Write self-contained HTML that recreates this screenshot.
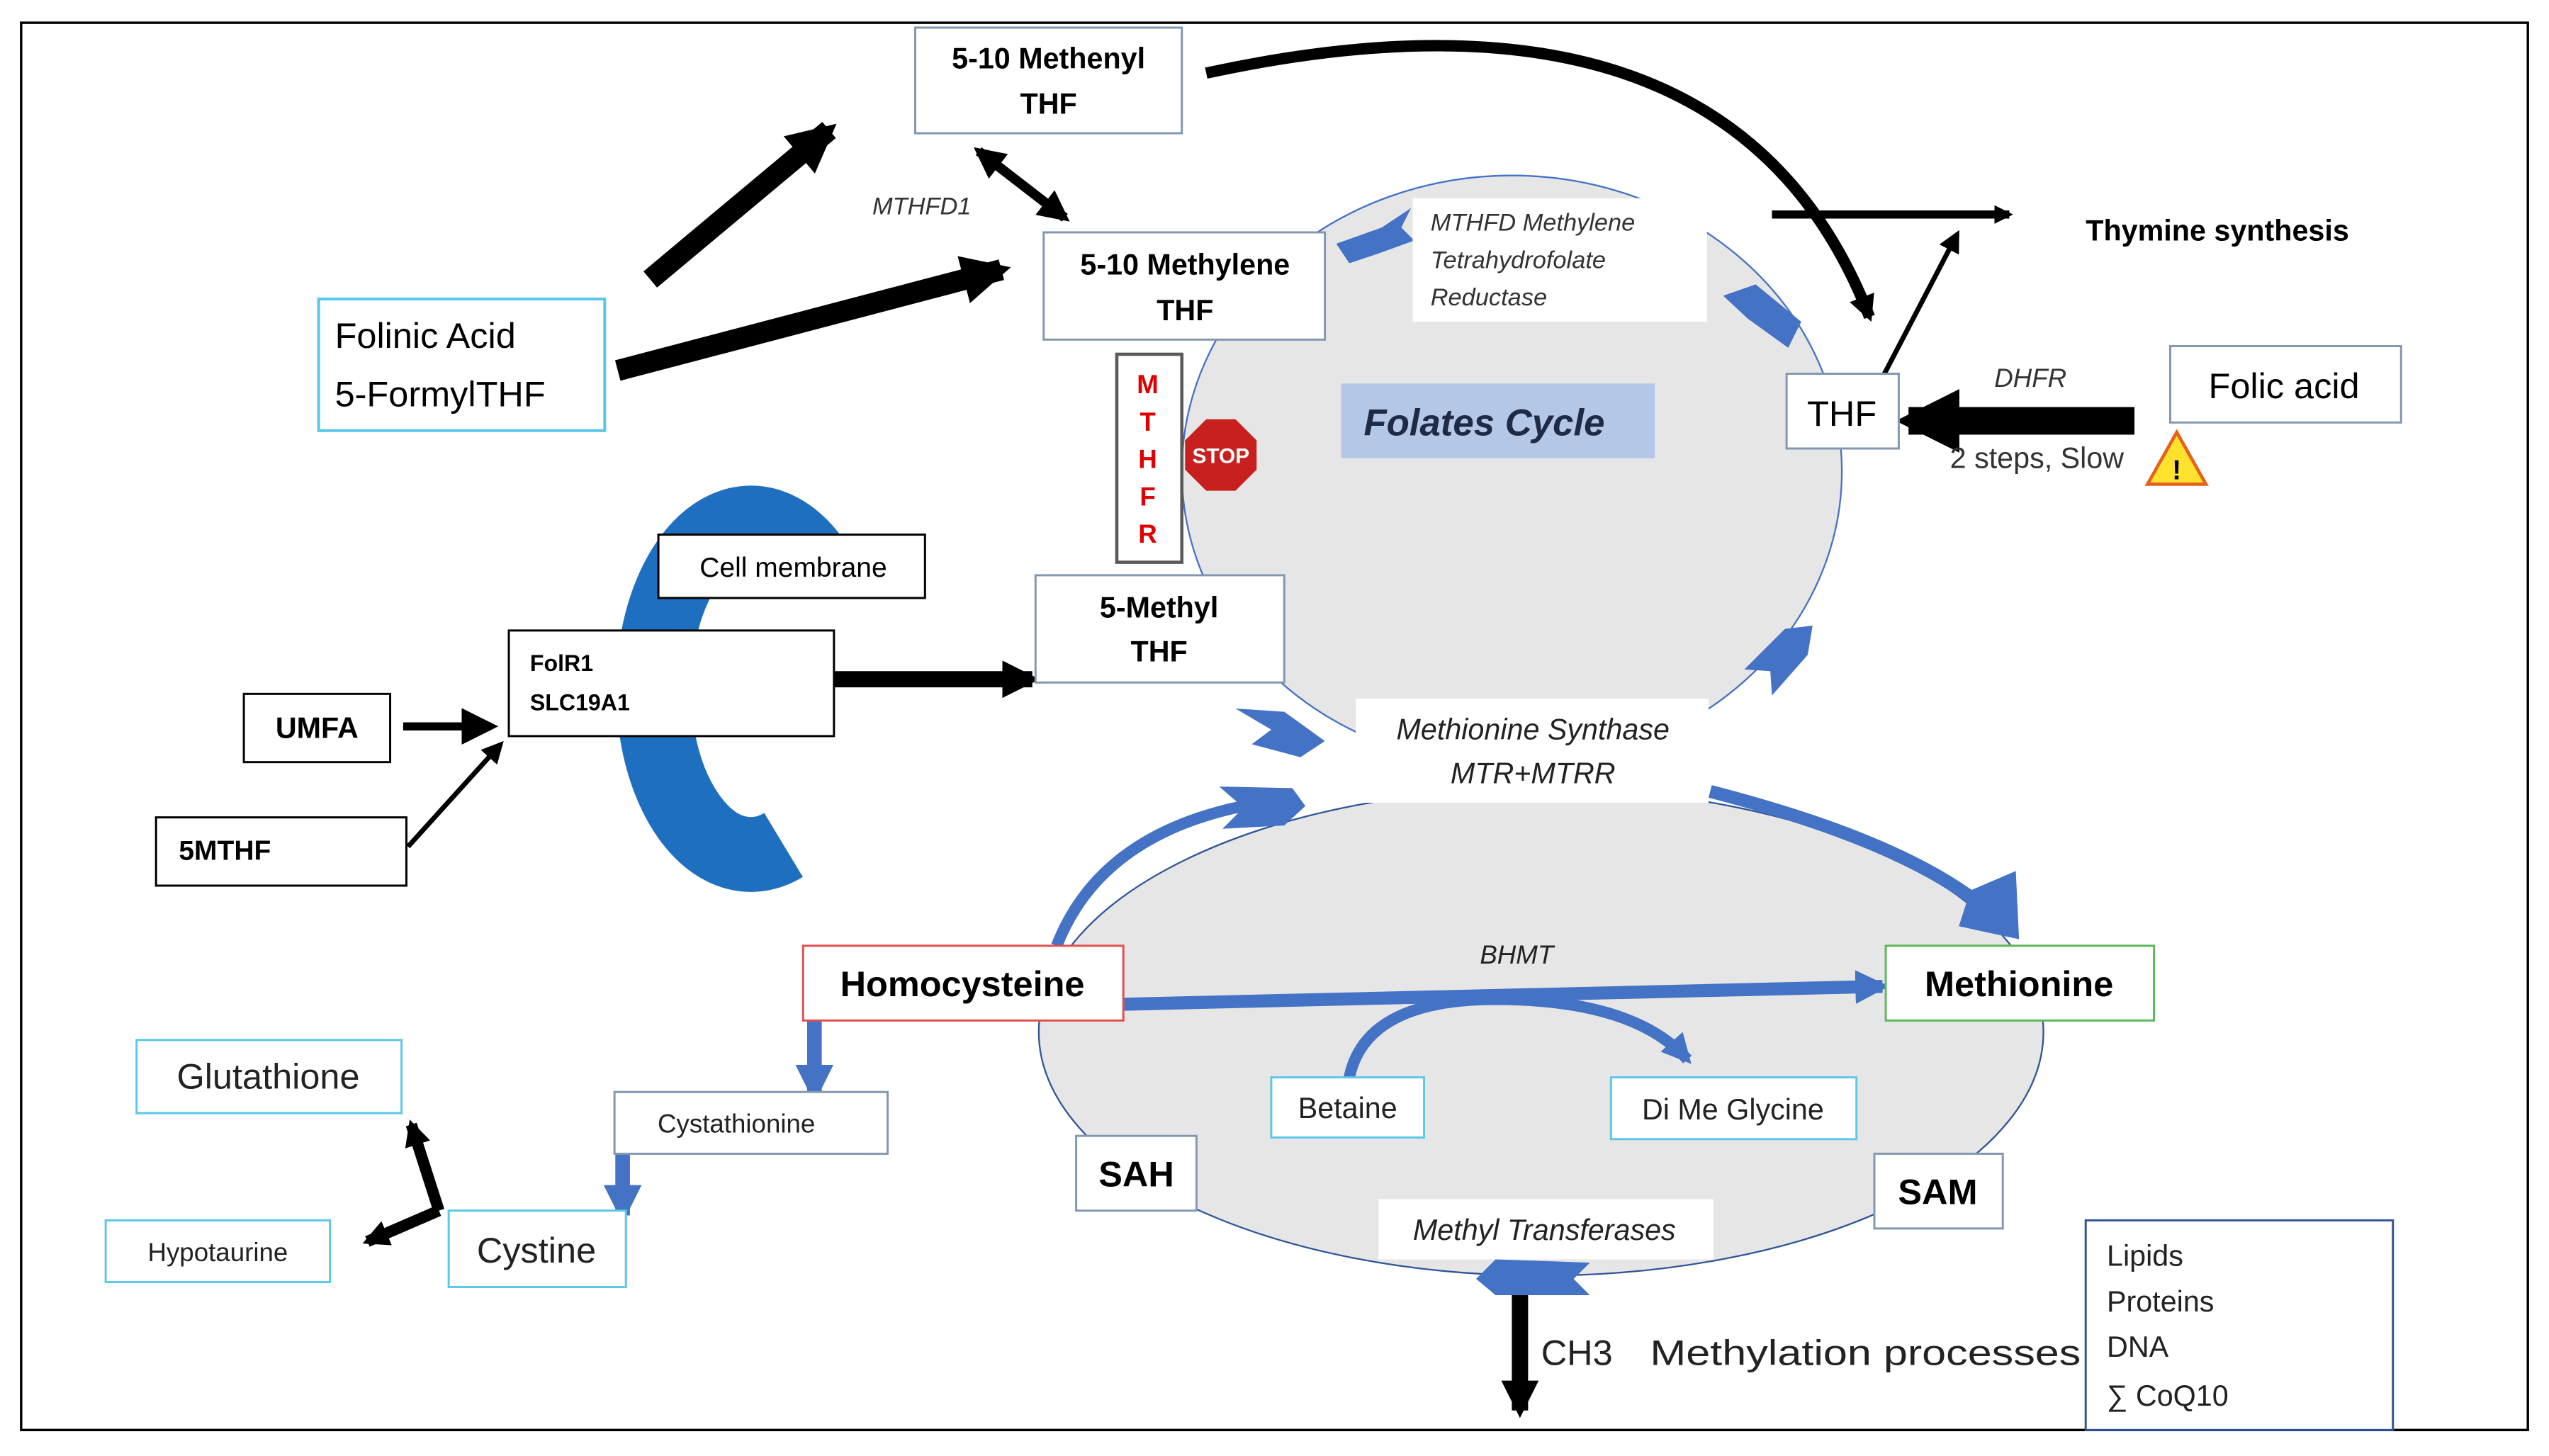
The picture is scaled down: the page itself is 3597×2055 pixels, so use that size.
<!DOCTYPE html>
<html><head><meta charset="utf-8"><style>
html,body{margin:0;padding:0;background:#fff;}
svg{display:block;}
text{font-family:"Liberation Sans",sans-serif;}
</style></head><body>
<svg width="3597" height="2055" viewBox="0 0 1568 896" preserveAspectRatio="none" xmlns="http://www.w3.org/2000/svg">
<defs>
<marker id="ah" viewBox="0 0 10 10" refX="8" refY="5" markerWidth="2.3" markerHeight="2.3" orient="auto-start-reverse"><path d="M0,0 L10,5 L0,10 z" fill="#000"/></marker>
<marker id="ahm" viewBox="0 0 10 10" refX="8" refY="5" markerWidth="3.2" markerHeight="3.2" orient="auto-start-reverse"><path d="M0,0 L10,5 L0,10 z" fill="#000"/></marker>
<marker id="ahs" viewBox="0 0 10 10" refX="8" refY="5" markerWidth="4.5" markerHeight="4.5" orient="auto-start-reverse"><path d="M0,0 L10,5 L0,10 z" fill="#000"/></marker>
<marker id="bh" viewBox="0 0 10 10" refX="8" refY="5" markerWidth="2.6" markerHeight="2.6" orient="auto"><path d="M0,0 L10,5 L0,10 z" fill="#4472c4"/></marker>
</defs>
<rect x="0" y="0" width="1568" height="896" fill="#fff"/>
<rect x="13" y="14" width="1542" height="866" fill="none" stroke="#000" stroke-width="1.5"/>

<ellipse cx="930" cy="290" rx="203" ry="182" fill="#e7e6e6" stroke="#4472c4" stroke-width="1"/>
<ellipse cx="948" cy="635" rx="309" ry="150" fill="#e7e6e6" stroke="#2f5597" stroke-width="1"/>

<path d="M 500 345 A 60 102 0 1 0 482 520" fill="none" stroke="#1f6fc0" stroke-width="46"/>

<line x1="380" y1="228" x2="616" y2="166" stroke="#000" stroke-width="13" marker-end="url(#ah)"/>
<line x1="400" y1="172" x2="510" y2="80" stroke="#000" stroke-width="13" marker-end="url(#ah)"/>
<line x1="602" y1="93" x2="655" y2="134" stroke="#000" stroke-width="6" marker-start="url(#ahm)" marker-end="url(#ahm)"/>
<path d="M 742 45 Q 1065 -25 1150 195" fill="none" stroke="#000" stroke-width="7" marker-end="url(#ah)"/>
<line x1="1090" y1="132" x2="1236" y2="132" stroke="#000" stroke-width="5" marker-end="url(#ah)"/>
<line x1="1155" y1="238" x2="1204" y2="144" stroke="#000" stroke-width="3" marker-end="url(#ahs)"/>
<line x1="1313" y1="259" x2="1174" y2="259" stroke="#000" stroke-width="17" marker-end="url(#ah)"/>
<line x1="513" y1="418" x2="635" y2="418" stroke="#000" stroke-width="10" marker-end="url(#ah)"/>
<line x1="248" y1="447" x2="302" y2="447" stroke="#000" stroke-width="5" marker-end="url(#ahs)"/>
<line x1="251" y1="521" x2="308" y2="458" stroke="#000" stroke-width="3" marker-end="url(#ahs)"/>
<line x1="935" y1="797" x2="935" y2="868" stroke="#000" stroke-width="10" marker-end="url(#ah)"/>
<line x1="270" y1="745" x2="253" y2="692" stroke="#000" stroke-width="7" marker-end="url(#ah)"/>
<line x1="270" y1="745" x2="226" y2="764" stroke="#000" stroke-width="7" marker-end="url(#ah)"/>

<path d="M 650 582 Q 680 505 790 492" fill="none" stroke="#4472c4" stroke-width="7"/>
<polygon points="750,484 795,485 803,496 790,508 752,510 765,497" fill="#4472c4"/>
<path d="M 1052 487 Q 1180 520 1228 565" fill="none" stroke="#4472c4" stroke-width="8"/>
<polygon points="1212,548 1240,536 1242,578 1205,570" fill="#4472c4"/>
<line x1="691" y1="618" x2="1158" y2="607" stroke="#4472c4" stroke-width="8" marker-end="url(#bh)"/>
<path d="M 830 663 Q 840 615 920 615 Q 1005 615 1038 652" fill="none" stroke="#4472c4" stroke-width="7" marker-end="url(#bh)"/>
<line x1="501" y1="626" x2="501" y2="674" stroke="#4472c4" stroke-width="9" marker-end="url(#bh)"/>
<line x1="383" y1="700" x2="383" y2="748" stroke="#4472c4" stroke-width="9" marker-end="url(#bh)"/>
<polygon points="760,436 790,438 815,456 800,466 770,458 782,449" fill="#4472c4"/>
<polygon points="1073,412 1098,387 1115,385 1112,403 1090,428 1089,413" fill="#4472c4"/>
<polygon points="1060,182 1080,175 1108,198 1100,214 1075,196" fill="#4472c4"/>
<polygon points="868,128 850,140 822,150 830,162 848,156 870,148 862,140" fill="#4472c4"/>
<polygon points="908,787 920,775 978,777 968,787 978,797 920,797" fill="#4472c4"/>

<g stroke-width="1.3" fill="#fff">
<rect x="563" y="17" width="164" height="65" stroke="#8497b0"/>
<rect x="642" y="143" width="173" height="66" stroke="#8497b0"/>
<rect x="687" y="218" width="40" height="128" stroke="#595959" stroke-width="2"/>
<rect x="869" y="122" width="181" height="76" stroke="none"/>
<rect x="825" y="236" width="193" height="46" fill="#b4c7e7" stroke="none"/>
<rect x="1099" y="230" width="69" height="46" stroke="#8497b0"/>
<rect x="1335" y="213" width="142" height="47" stroke="#8497b0"/>
<rect x="196" y="184" width="176" height="81" stroke="#5bc8e8" stroke-width="1.8"/>
<rect x="405" y="329" width="164" height="39" stroke="#000"/>
<rect x="313" y="388" width="200" height="65" stroke="#000"/>
<rect x="637" y="354" width="153" height="66" stroke="#8497b0"/>
<rect x="150" y="427" width="90" height="42" stroke="#000"/>
<rect x="96" y="503" width="154" height="42" stroke="#000"/>
<rect x="834" y="430" width="217" height="64" stroke="none"/>
<rect x="494" y="582" width="197" height="46" stroke="#e05050"/>
<rect x="1160" y="582" width="165" height="46" stroke="#5cb85c"/>
<rect x="782" y="663" width="94" height="37" stroke="#5bc8e8"/>
<rect x="991" y="663" width="151" height="38" stroke="#5bc8e8"/>
<rect x="662" y="699" width="74" height="46" stroke="#8497b0"/>
<rect x="1153" y="710" width="79" height="46" stroke="#8497b0"/>
<rect x="848" y="738" width="206" height="37" stroke="none"/>
<rect x="1283" y="751" width="189" height="129" stroke="#2f5597"/>
<rect x="84" y="640" width="163" height="45" stroke="#5bc8e8"/>
<rect x="65" y="751" width="138" height="38" stroke="#5bc8e8"/>
<rect x="276" y="745" width="109" height="47" stroke="#5bc8e8"/>
<rect x="378" y="672" width="168" height="38" stroke="#8497b0"/>
</g>

<polygon points="742,258 760,258 773,271 773,289 760,302 742,302 729,289 729,271" fill="#c8201e"/>
<text x="751" y="285" font-size="13" font-weight="bold" fill="#fff" text-anchor="middle">STOP</text>
<polygon points="1339,266 1357,298 1321,298" fill="#ffe22e" stroke="#e8601c" stroke-width="2"/>
<text x="1339" y="295" font-size="17" font-weight="bold" text-anchor="middle">!</text>

<g fill="#000" text-anchor="middle">
<text x="645" y="42" font-size="18" font-weight="bold">5-10 Methenyl</text>
<text x="645" y="70" font-size="18" font-weight="bold">THF</text>
<text x="729" y="169" font-size="18" font-weight="bold">5-10 Methylene</text>
<text x="729" y="197" font-size="18" font-weight="bold">THF</text>
<g fill="#e00000" font-size="16" font-weight="bold">
<text x="706" y="242">M</text><text x="706" y="265">T</text><text x="706" y="288">H</text><text x="706" y="311">F</text><text x="706" y="334">R</text>
</g>
<text x="913" y="268" font-size="23" font-weight="bold" font-style="italic" fill="#1f2a44">Folates Cycle</text>
<text x="1133" y="262" font-size="22">THF</text>
<text x="1405" y="245" font-size="22">Folic acid</text>
<text x="1249" y="238" font-size="16" font-style="italic" fill="#333">DHFR</text>
<text x="1253" y="288" font-size="18" fill="#333">2 steps, Slow</text>
<text x="1364" y="148" font-size="18" font-weight="bold">Thymine  synthesis</text>
<text x="567" y="132" font-size="15" font-style="italic" fill="#333">MTHFD1</text>
<text x="488" y="355" font-size="17">Cell membrane</text>
<text x="195" y="454" font-size="18" font-weight="bold">UMFA</text>
<text x="713" y="380" font-size="18" font-weight="bold">5-Methyl</text>
<text x="713" y="407" font-size="18" font-weight="bold">THF</text>
<text x="943" y="455" font-size="18" font-style="italic" fill="#222">Methionine Synthase</text>
<text x="943" y="482" font-size="18" font-style="italic" fill="#222">MTR+MTRR</text>
<text x="592" y="613" font-size="22" font-weight="bold">Homocysteine</text>
<text x="1242" y="613" font-size="22" font-weight="bold">Methionine</text>
<text x="933" y="593" font-size="16" font-style="italic" fill="#222">BHMT</text>
<text x="829" y="688" font-size="18" fill="#222">Betaine</text>
<text x="1066" y="689" font-size="18" fill="#222">Di Me Glycine</text>
<text x="699" y="730" font-size="22" font-weight="bold">SAH</text>
<text x="1192" y="741" font-size="22" font-weight="bold">SAM</text>
<text x="950" y="763" font-size="18" font-style="italic" fill="#222">Methyl Transferases</text>
<text x="165" y="670" font-size="22" fill="#222">Glutathione</text>
<text x="134" y="776" font-size="16" fill="#222">Hypotaurine</text>
<text x="330" y="777" font-size="22" fill="#222">Cystine</text>
<text x="453" y="697" font-size="16" fill="#222">Cystathionine</text>
</g>
<g fill="#000" text-anchor="start">
<text x="206" y="214" font-size="22">Folinic Acid</text>
<text x="206" y="250" font-size="22">5-FormylTHF</text>
<text x="880" y="142" font-size="15" font-style="italic" fill="#333">MTHFD  Methylene</text>
<text x="880" y="165" font-size="15" font-style="italic" fill="#333">Tetrahydrofolate</text>
<text x="880" y="188" font-size="15" font-style="italic" fill="#333">Reductase</text>
<text x="326" y="413" font-size="14" font-weight="bold">FolR1</text>
<text x="326" y="437" font-size="14" font-weight="bold">SLC19A1</text>
<text x="110" y="529" font-size="17" font-weight="bold">5MTHF</text>
<text x="948" y="840" font-size="22" fill="#222">CH3</text>
<text x="1015" y="840" font-size="22" fill="#222" textLength="265" lengthAdjust="spacingAndGlyphs">Methylation processes</text>
<text x="1296" y="779" font-size="18" fill="#222">Lipids</text>
<text x="1296" y="807" font-size="18" fill="#222">Proteins</text>
<text x="1296" y="835" font-size="18" fill="#222">DNA</text>
<text x="1296" y="865" font-size="18" fill="#222">∑ CoQ10</text>
</g>
</svg>
</body></html>
